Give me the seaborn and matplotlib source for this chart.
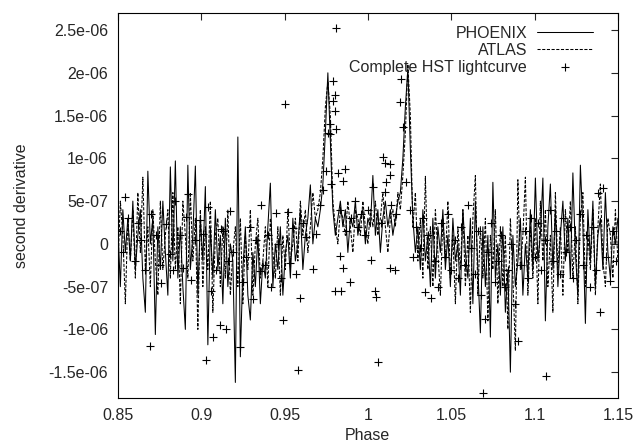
import numpy as np
import pandas as pd
import seaborn as sns
import matplotlib.pyplot as plt
from matplotlib.ticker import MultipleLocator, FuncFormatter

# model curves sampled every 0.0015 in phase, values in units of 1e-7
phase_grid = np.round(np.arange(0.85, 1.15 + 1e-9, 0.0015), 4)

phoenix = [
    2, -5, 4, -1, 3, -2, 5, -3, 1, 4,
    -4, -8, 8.5, 0, 3, -10.6, 2, -3, 5, -1,
    -6, 9, -2, 9.7, -4, 2, -5, -10, 9.2, -3,
    1, 9.1, -6, 3, -2, 6.7, -11.8, 2, -4, 4,
    -3, 1, -7, 3, -5, 0, -2, -16.2, 12.5, -13.2,
    -3, 2, -6, -8.9, -1, -5, 1, -7, -2, -4,
    2, 7.1, -5, 0, -3, 2, -6, -1, 1, -4,
    3, -2, 0, 4, -3, 1, 3, 6.9, 0, 3,
    2, 4, 7, 13, 20, 12, 4, 1, 3, 5,
    2, 4, -1, 3, 2, 5, 1, 3, 4, 0,
    3, 2, 8, 1, 4, -1, 3, 5, 2, 4,
    1, 3, 5, 6, 10, 16, 20.5, 11, 3, -1,
    2, -3, 4, -2, 1, -5, 3, -4, 2, -1,
    4, -3, 1, -5, 3, -2, 0, -6, 4, -1,
    -4, 3, -7, 5, -3, -10.4, 2, -5, 1, -10.9,
    7.2, -4, 0, -6, 2, -8, -3, -15, 1, -5,
    -2, 3, -6, 0, -4, 4, -3, 7.7, -2, 1,
    7.7, -9, 2, 7, -3, 4, -5, 1, 5, -2,
    3, -4, 8.3, -1, -6, 9.2, 2, -9.3, 4, -2,
    5, -5, 1, 3, -3, 6, -1, -4, 2, 0,
    3,
]

atlas = [
    -3, 5, 1, -7, 3, -2, 4, -4, 6, -1,
    7.8, -3, 2, -5, 4, -2, -6, 5, -3, 1,
    4, -4, 6, -3, 2, -7, 5, 1, -4, 6,
    -2, 3, -10, 4, -5, 2, -3, 5, -8, 1,
    3, -5, 2, -4, 4, -6, -1, 2, -5, 3,
    -7, 1, -3, 4, -6, 0, 3, -4, -2, 2,
    -5, 3, -1, -4, 2, -6, 1, -3, 4, -2,
    0, 3, -2, 5, 1, 4, -1, 2, 6, 3,
    4, 6, 10, 16, 19, 15, 5, 2, 0, 4,
    3, 1, 5, 2, -1, 4, 3, 1, 5, 2,
    0, 4, 2, 5, 1, 3, 6, 2, -1, 3,
    4, 2, 6, 4, 8, 13, 21, 15, 2, 6,
    -2, 3, -4, 7.9, -3, 2, -5, 4, -1, -6,
    3, -2, 5, -4, 1, -7, 2, -3, 4, -5,
    1, -8, 3, 8, -6, 2, -4, 3, -9, 1,
    -3, 4, -7, 2, -5, 1, -10, 3, -4, -12.5,
    7.5, -3, 1, 7.8, -6, 2, -4, 3, -7, 5,
    -2, 4, -5, 1, -8, 6, -3, 2, -6, 4,
    -1, 5, -4, 2, -7, 3, 6, -5, 1, -3,
    4, -6, 2, 7, -2, -5, 3, 1, -4, 4,
    -2,
]

# HST lightcurve points (phase, value in 1e-7)
hst_phase = [
    0.851, 0.853, 0.854, 0.856, 0.860, 0.862, 0.864, 0.866, 0.869, 0.870,
    0.873, 0.875, 0.876, 0.879, 0.881, 0.883, 0.884, 0.887, 0.889, 0.891,
    0.892, 0.894, 0.896, 0.899, 0.901, 0.903, 0.904, 0.906, 0.907, 0.909,
    0.911, 0.912, 0.913, 0.915, 0.916, 0.917, 0.919, 0.923, 0.925, 0.927,
    0.929, 0.931, 0.933, 0.935, 0.936, 0.938, 0.940, 0.942, 0.945, 0.946,
    0.948, 0.949, 0.950, 0.952, 0.953, 0.955, 0.957, 0.958, 0.959, 0.961,
    0.963, 0.967, 0.969, 0.971, 0.973, 0.975, 0.976, 0.977, 0.977, 0.978,
    0.979, 0.980, 0.979, 0.980, 0.981, 0.981, 0.982, 0.983, 0.986, 0.985,
    0.980, 0.984, 0.989, 0.985, 0.983, 0.987, 0.990, 0.992, 0.994, 0.996,
    0.998, 1.000, 1.002, 1.004, 1.005, 1.006, 1.003, 1.008, 1.009, 1.010,
    1.010, 1.011, 1.013, 1.013, 1.014, 1.013, 1.016, 1.017, 1.019, 1.020,
    1.021, 1.023, 1.025, 1.027, 1.029, 1.031, 1.033, 1.034, 1.036, 1.038,
    1.040, 1.042, 1.044, 1.046, 1.048, 1.050, 1.052, 1.054, 1.056, 1.058,
    1.060, 1.062, 1.064, 1.066, 1.068, 1.069, 1.070, 1.072, 1.074, 1.076,
    1.078, 1.080, 1.082, 1.084, 1.086, 1.088, 1.090, 1.092, 1.094, 1.096,
    1.098, 1.100, 1.102, 1.104, 1.107, 1.106, 1.109, 1.111, 1.113, 1.115,
    1.117, 1.119, 1.121, 1.123, 1.125, 1.127, 1.129, 1.131, 1.133, 1.135,
    1.137, 1.139, 1.138, 1.141, 1.143, 1.145, 1.147, 1.149,
]
hst_d2 = [
    1.5, -1, 5.5, 3, -2, 2.5, 0.5, -3, -11.9, 3.5,
    1, -2.5, -4.6, 2.3, -1.2, -3, 5, 1, -2.8, 3.2,
    5.8, -4.2, 0.5, 2.8, 1.2, -13.6, 4.3, -5.5, -10.9, -3,
    -9.5, 1.7, 1.5, -10, -2, 3.8, -1, -12, -4.5, -1.5,
    2, -6.5, 0.5, -3.2, 4.5, -2.5, 1, -5, 3.6, 0,
    -4, -8.9, 16.4, 3.7, -2.2, 1.8, -3.5, -14.8, -6.3, 2.5,
    0.8, -2.9, 1.2, 4.5, 6.3, 8.5, 13, 12.8, 14, 7,
    19, 17.4, 16.7, 15.5, 13.4, 25.2, 8.3, 4, 8.8, 7.3,
    -5.5, -5.5, -4.5, -2.8, -1.4, 1.5, 3, 5, 2, 3.5,
    1, 4, -1.9, -5.5, -6.2, -13.8, 6.7, 2.5, 10.2, 9.5,
    6.1, 7.2, 9.3, 8, 4.5, -2.8, -3, 3.5, 16.6, 19.3,
    13.7, 7.2, 4, -1.5, 2, -0.5, 3, -5.6, 1, -6.3,
    -2, -5, 2.5, -1.5, 3.5, -3, 0.5, -4, 2, -2.5,
    4.5, -0.5, -3.5, 1.5, -6, -17.4, -8.8, -1, 2.5, -4.5,
    -2, 1, -5, -3, 0, -7, -11.3, -2.5, 1.5, -4,
    3, -1.5, 2.5, -3, -15.5, 0.5, 4, -2, 1.5, -3.5,
    3, -1, 2, -4, 0.5, 3.5, -2.5, 1, -5, 2,
    -3, -8, 6, 6.5, -1.5, -4.3, 1.5, -2,
]

unit = 1e-7
lines = pd.DataFrame({'phase': phase_grid,
                      'phoenix': np.array(phoenix) * unit,
                      'atlas': np.array(atlas) * unit})
hst = pd.DataFrame({'phase': hst_phase, 'd2': np.array(hst_d2) * unit})

sns.set_style('white')
plt.rcParams['font.family'] = ['Liberation Sans', 'DejaVu Sans']
fs = 11.5

fig = plt.figure(figsize=(6.37, 4.47), dpi=100)
ax = fig.add_axes([0.185, 0.110, 0.785, 0.861])

sns.lineplot(data=lines, x='phase', y='phoenix', color='black', lw=0.75,
             estimator=None, sort=False, label='PHOENIX', ax=ax)
sns.lineplot(data=lines, x='phase', y='atlas', color='black', lw=0.75,
             dashes=False, estimator=None, sort=False, label='ATLAS', ax=ax)
ax.lines[1].set_linestyle((0, (3, 1.5)))
sns.scatterplot(data=hst, x='phase', y='d2', marker='+', color='black',
                s=36, linewidth=0.8, label='Complete HST lightcurve', ax=ax)

ax.set_xlim(0.85, 1.15)
ax.set_ylim(-1.8e-6, 2.7e-6)
ax.xaxis.set_major_locator(MultipleLocator(0.05))
ax.yaxis.set_major_locator(MultipleLocator(5e-7))
fmt = FuncFormatter(lambda v, p: '%g' % round(v, 12))
ax.xaxis.set_major_formatter(fmt)
ax.yaxis.set_major_formatter(fmt)
ax.tick_params(direction='in', length=5, width=0.8, top=True, right=True,
               labelsize=fs, pad=7)
for s in ax.spines.values():
    s.set_color('black')
    s.set_linewidth(0.8)

ax.set_xlabel('Phase', fontsize=fs)
ax.set_ylabel('second derivative', fontsize=fs, labelpad=14)

ax.legend(loc='upper right', frameon=False, markerfirst=False,
          handlelength=3.5, handletextpad=0.6, labelspacing=0.12,
          borderaxespad=0.4, scatterpoints=1, fontsize=fs,
          bbox_to_anchor=(0.975, 1.0))

fig.savefig('out.png', dpi=100)
